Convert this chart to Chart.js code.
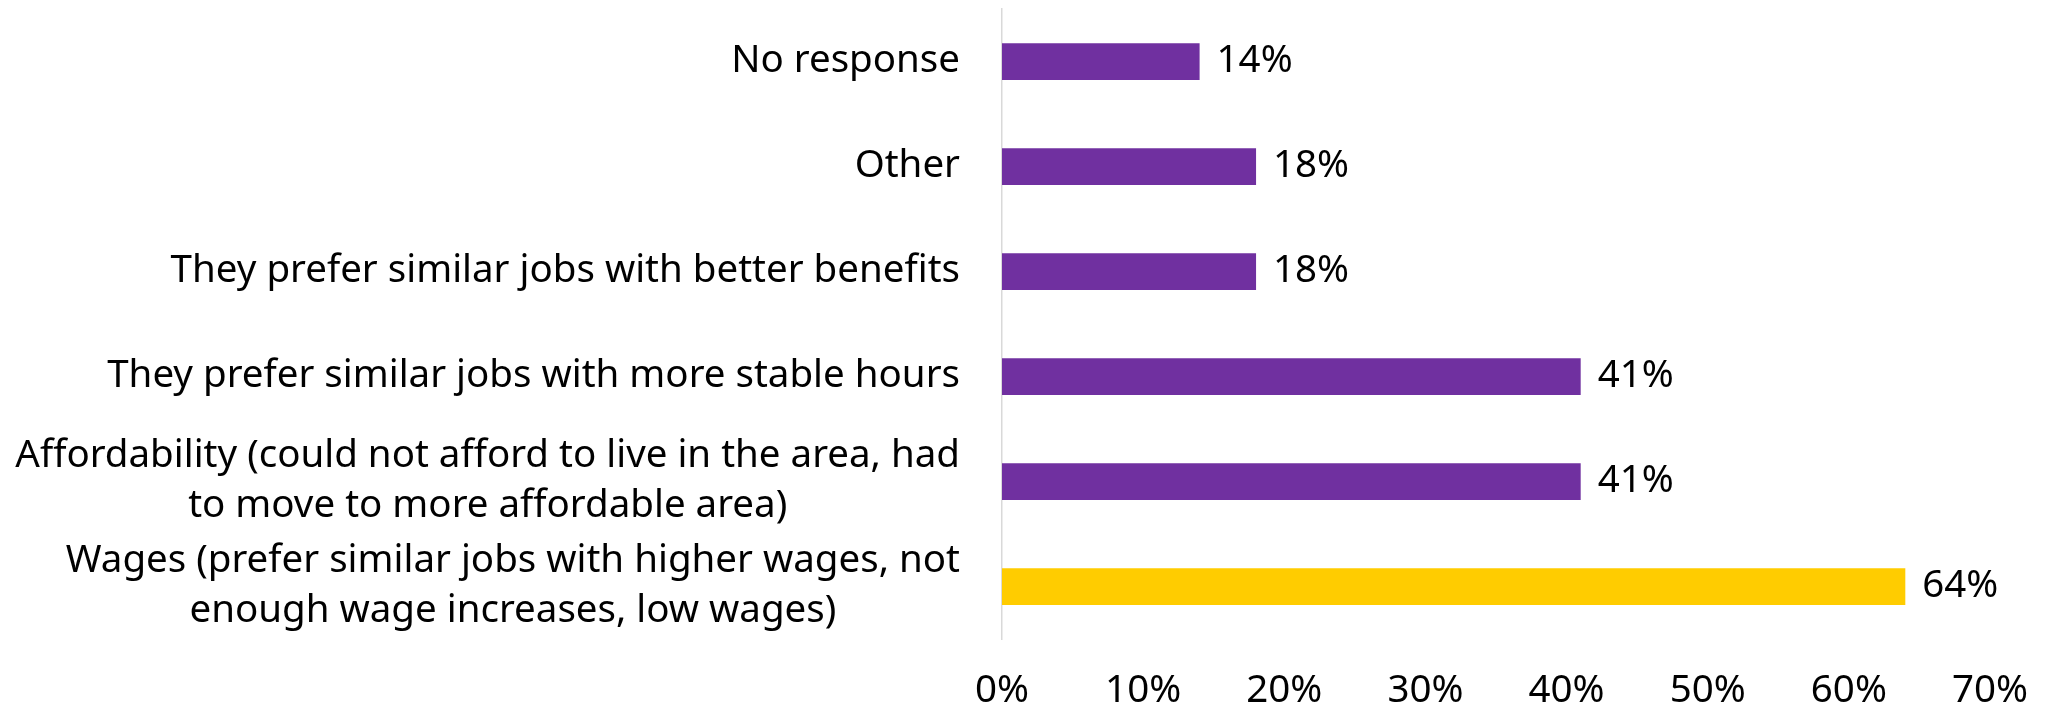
<!DOCTYPE html>
<html>
<head>
<meta charset="utf-8">
<script src="https://cdn.jsdelivr.net/npm/chart.js@4.4.1/dist/chart.umd.min.js"></script>
<style>
  html, body { margin: 0; padding: 0; background: #fff; overflow: hidden; }
</style>
</head>
<body>
<canvas id="reasonsChart" width="2046" height="711"></canvas>
<script>
// Reasons for leaving, share of responses (%), top to bottom
const categories = [
  ['No response'],
  ['Other'],
  ['They prefer similar jobs with better benefits'],
  ['They prefer similar jobs with more stable hours'],
  ['Affordability (could not afford to live in the area, had', 'to move to more affordable area)'],
  ['Wages (prefer similar jobs with higher wages, not', 'enough wage increases, low wages)']
];
const shares = [14, 18, 18, 41, 41, 64];
const axisTicks = [0, 10, 20, 30, 40, 50, 60, 70];

const PURPLE = '#7030A0';
const GOLD = '#FFCC00';
const FONT_FAMILY = "'Noto Sans', 'Liberation Sans', sans-serif";
const FONT_SIZE = 38.5;
const FONT_CSS = `${FONT_SIZE}px ${FONT_FAMILY}`;
const LINE_GAP = 50;

const topShare = Math.max(...shares);

// category names, right-aligned as a block, wrapped lines centred inside it
const categoryLabels = {
    id: 'categoryLabels',
    afterDraw(chart) {
        const { ctx, chartArea, scales: { y } } = chart;
        ctx.save();
        ctx.font = FONT_CSS;
        ctx.fillStyle = '#000';
        ctx.textAlign = 'center';
        ctx.textBaseline = 'middle';
        const right = chartArea.left - 42;
        categories.forEach((lines, i) => {
            const cy = y.getPixelForValue(i);
            const w = Math.max(...lines.map(l => ctx.measureText(l).width));
            const cx = right - w / 2;
            lines.forEach((line, k) => {
                ctx.fillText(line, cx, cy + (k - (lines.length - 1) / 2) * LINE_GAP);
            });
        });
        ctx.restore();
    }
};

// percentage just past the end of each bar
const valueLabels = {
    id: 'valueLabels',
    afterDatasetsDraw(chart) {
        const { ctx } = chart;
        const meta = chart.getDatasetMeta(0);
        ctx.save();
        ctx.font = FONT_CSS;
        ctx.fillStyle = '#000';
        ctx.textAlign = 'left';
        ctx.textBaseline = 'middle';
        meta.data.forEach((bar, i) => {
            ctx.fillText(`${shares[i]}%`, bar.x + 17, bar.y);
        });
        ctx.restore();
    }
};

const ctx = document.getElementById('reasonsChart').getContext('2d');
new Chart(ctx, {
    type: 'bar',
    data: {
        labels: categories.map(l => l.join(' ')),
        datasets: [{
            data: shares,
            backgroundColor: shares.map(v => v === topShare ? GOLD : PURPLE),
            borderWidth: 0,
            barPercentage: 0.35,
            categoryPercentage: 1
        }]
    },
    options: {
        indexAxis: 'y',
        responsive: false,
        devicePixelRatio: 1,
        animation: false,
        layout: { padding: { top: 9, right: 56, bottom: 0, left: 0 } },
        plugins: {
            legend: { display: false },
            tooltip: { enabled: false }
        },
        scales: {
            x: {
                min: 0,
                max: 70,
                grid: { display: false, drawTicks: false },
                border: { display: false },
                afterBuildTicks(scale) {
                    scale.ticks = axisTicks.map(value => ({ value }));
                },
                afterFit(scale) {
                    scale.height = 72;
                    scale.paddingLeft = 0;
                    scale.paddingRight = 0;
                },
                ticks: {
                    padding: 33,
                    color: '#000',
                    font: { family: FONT_FAMILY, size: FONT_SIZE, lineHeight: 1 },
                    callback: v => `${v}%`
                }
            },
            y: {
                grid: { display: false, drawTicks: false },
                border: { color: '#D9D9D9', width: 1.5 },
                ticks: { display: false },
                afterFit(scale) { scale.width = 1002; }
            }
        }
    },
    plugins: [categoryLabels, valueLabels]
});
</script>
</body>
</html>
